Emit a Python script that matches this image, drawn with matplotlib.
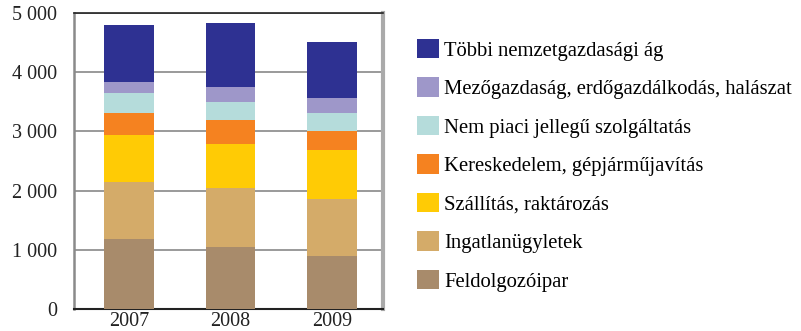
import matplotlib.pyplot as plt
from matplotlib.patches import Patch

plt.rcParams['font.family'] = 'Liberation Serif'

years = ['2007', '2008', '2009']

# sectors, bottom to top
sectors = [
    'Feldolgozóipar',
    'Ingatlanügyletek',
    'Szállítás, raktározás',
    'Kereskedelem, gépjárműjavítás',
    'Nem piaci jellegű szolgáltatás',
    'Mezőgazdaság, erdőgazdálkodás, halászat',
    'Többi nemzetgazdasági ág',
]
feldolgozoipar = [1178, 1048, 895]
ingatlan = [975, 1003, 969]
szallitas = [782, 731, 822]
kereskedelem = [374, 408, 317]
nem_piaci = [345, 306, 306]
mezogazdasag = [187, 249, 249]
tobbi = [958, 1082, 952]

colors = ['#a88b6b', '#d4ab69', '#ffcb05', '#f58220',
          '#b5dcdb', '#9e97c9', '#2e3192']

series = [feldolgozoipar, ingatlan, szallitas, kereskedelem,
          nem_piaci, mezogazdasag, tobbi]

fig = plt.figure(figsize=(8.01, 3.31), dpi=100)
ax = fig.add_axes([74 / 801, 1 - 309 / 331, 309 / 801, 296 / 331])

x = range(len(years))
bottom = [0, 0, 0]
for vals, col in zip(series, colors):
    ax.bar(x, vals, width=0.49, bottom=bottom, color=col, zorder=3)
    bottom = [b + v for b, v in zip(bottom, vals)]

ax.set_xlim(-0.54, 2.5)
ax.set_ylim(0, 5000)
ax.set_yticks(range(0, 5001, 1000))
ax.set_yticklabels(['0', '1 000', '2 000', '3 000', '4 000', '5 000'])
ax.set_xticks(list(x))
ax.set_xticklabels(years)
ax.tick_params(length=0, labelsize=14.5, colors='#222222')
ax.tick_params(axis='y', pad=12)
ax.tick_params(axis='x', pad=2)
ax.grid(axis='y', color='#9a9a9a', linewidth=1.4, zorder=0)

ax.spines['left'].set_color('#8a8a8a')
ax.spines['left'].set_linewidth(1.8)
ax.spines['right'].set_color('#aaaaaa')
ax.spines['right'].set_linewidth(3)
ax.spines['top'].set_color('#222222')
ax.spines['top'].set_linewidth(1.2)
ax.spines['bottom'].set_color('#222222')
ax.spines['bottom'].set_linewidth(1.5)

handles = [Patch(facecolor=c) for c in colors][::-1]
fig.legend(handles, sectors[::-1], loc='upper left',
           bbox_to_anchor=(417 / 801, 1 - 39 / 331), frameon=False,
           fontsize=14.9, handlelength=1.06, handleheight=1.06,
           handletextpad=0.26, labelspacing=0.81, borderaxespad=0,
           borderpad=0)

fig.savefig('out.png', dpi=100)
